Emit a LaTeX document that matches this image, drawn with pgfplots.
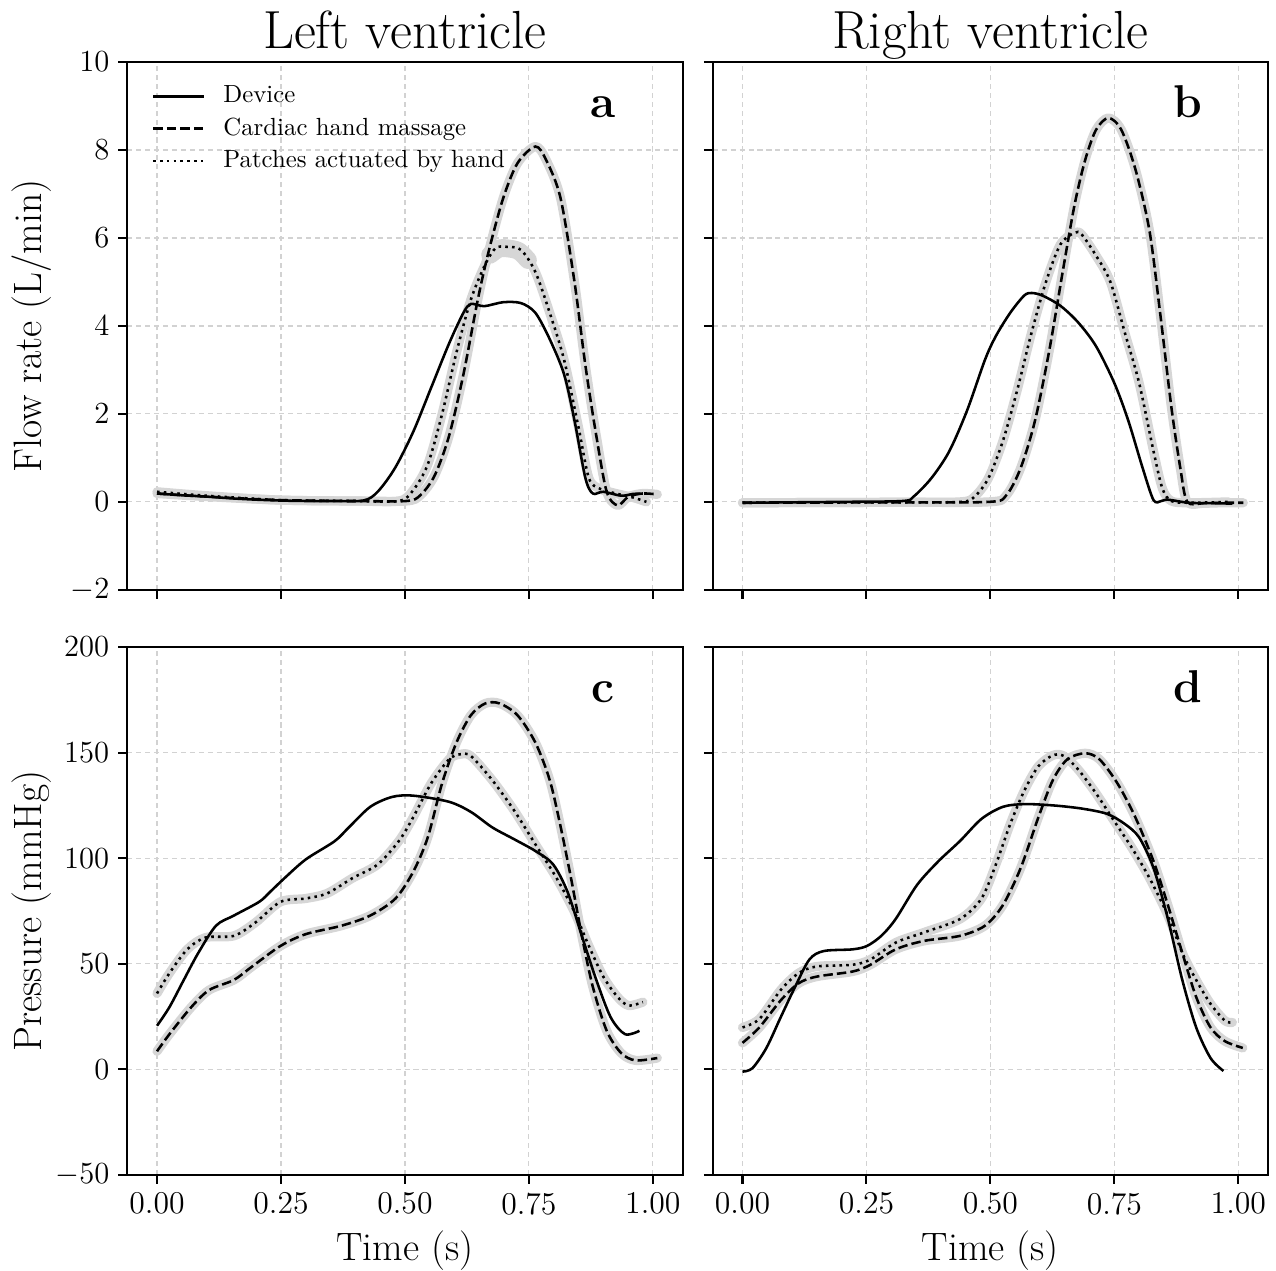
\documentclass[border=0pt]{standalone}
\usepackage{pgfplots}
\pgfplotsset{compat=1.18}
\usepgfplotslibrary{groupplots}

% ---- panel a: left ventricle flow
\pgfplotstableread{
x y
0 0.19
0.05 0.15
0.1 0.12
0.15 0.08
0.2 0.05
0.25 0.03
0.3 0.02
0.35 0.02
0.416 0.03
0.445 0.23
0.48 0.77
0.517 1.6
0.553 2.6
0.589 3.6
0.618 4.3
0.633 4.5
0.66 4.45
0.698 4.54
0.734 4.52
0.763 4.3
0.792 3.7
0.821 2.9
0.842 1.85
0.864 0.54
0.879 0.19
0.9 0.23
0.936 0.14
0.96 0.18
0.98 0.19
}\aDev
\pgfplotstableread{
x y
0 0.19
0.1 0.12
0.25 0.04
0.4 0.02
0.503 0.02
0.531 0.15
0.56 0.6
0.589 1.5
0.618 2.9
0.647 4.6
0.669 5.7
0.698 6.9
0.727 7.7
0.763 8.08
0.785 7.77
0.814 6.9
0.842 5.0
0.864 3.1
0.886 1.5
0.907 0.23
0.929 -0.08
0.951 0.12
0.98 0.19
1.009 0.17
}\aMas
\pgfplotstableread{
x y
0 0.23
0.1 0.14
0.25 0.04
0.4 0.02
0.488 0.02
0.517 0.27
0.546 0.85
0.575 2.0
0.604 3.4
0.633 4.6
0.662 5.4
0.683 5.77
0.705 5.8
0.734 5.73
0.763 5.23
0.792 4.3
0.821 3.23
0.85 1.7
0.871 0.54
0.893 0.3
0.922 0.2
0.96 0.1
0.987 0.0
}\aPat
% wider spread around the peak of the dotted curve in panel a
\pgfplotstableread{
x y
0.672 5.62
0.69 5.76
0.71 5.76
0.73 5.7
0.748 5.5
}\aPatPeak

% ---- panel b: right ventricle flow
\pgfplotstableread{
x y
0 -0.02
0.2 0.0
0.323 0.02
0.345 0.12
0.381 0.54
0.417 1.15
0.453 2.08
0.489 3.23
0.511 3.77
0.54 4.3
0.568 4.69
0.583 4.75
0.605 4.69
0.641 4.46
0.677 4.08
0.713 3.54
0.75 2.7
0.778 1.85
0.807 0.77
0.829 0.04
0.845 0.02
0.858 0.05
0.9 -0.02
0.95 -0.03
0.988 -0.04
}\bDev
\pgfplotstableread{
x y
0 -0.02
0.3 -0.01
0.497 0.0
0.532 0.15
0.561 0.77
0.59 1.85
0.619 3.46
0.648 5.38
0.67 6.77
0.691 7.77
0.713 8.46
0.738 8.73
0.764 8.46
0.793 7.54
0.821 6.15
0.843 4.23
0.865 2.15
0.883 0.77
0.897 0.0
0.93 -0.03
0.97 -0.02
1.01 -0.02
}\bMas
\pgfplotstableread{
x y
0 -0.02
0.3 -0.01
0.439 0.0
0.468 0.12
0.496 0.54
0.525 1.38
0.554 2.54
0.583 3.85
0.612 5.0
0.641 5.85
0.67 6.12
0.684 6.08
0.713 5.6
0.742 5.0
0.771 3.85
0.8 2.7
0.829 1.15
0.847 0.3
0.865 0.02
0.9 -0.02
0.98 0.0
}\bPat

% ---- panel c: left ventricle pressure
\pgfplotstableread{
x y
0 20.6
0.025 29.4
0.054 42.3
0.083 55
0.119 68
0.155 72.8
0.206 79.3
0.228 84
0.257 90.5
0.3 99.4
0.358 108
0.387 114.6
0.43 124.3
0.474 129
0.517 129.6
0.589 126.7
0.633 121.9
0.676 114.6
0.72 109
0.763 103.4
0.799 97
0.828 84
0.857 63
0.886 42.3
0.915 24.6
0.944 16.6
0.973 18.2
}\cDev
\pgfplotstableread{
x y
0 8.5
0.025 16.6
0.069 29.4
0.105 37.5
0.155 42.3
0.192 48.7
0.249 58.4
0.3 64
0.372 68
0.43 72.8
0.481 80.9
0.517 93.7
0.546 109.8
0.575 135.5
0.604 154.8
0.633 167.7
0.662 173.3
0.691 173.3
0.727 167.7
0.763 154.8
0.792 137
0.813 116
0.835 90.5
0.857 63
0.879 39
0.907 18.2
0.936 7.7
0.965 4.2
1.009 5.3
}\cMas
\pgfplotstableread{
x y
0 35.9
0.025 45.5
0.061 56.8
0.098 62.4
0.155 63.2
0.199 69.6
0.249 79.3
0.3 80.9
0.343 83.3
0.394 90.5
0.445 97
0.488 108.2
0.517 119.5
0.553 135.5
0.589 146.8
0.611 149.2
0.633 148.4
0.676 137
0.72 122.7
0.763 106.6
0.806 90.5
0.842 74.4
0.871 58.4
0.9 43.9
0.929 34.2
0.951 30.2
0.98 31.8
}\cPat

% ---- panel d: right ventricle pressure
\pgfplotstableread{
x y
0 -1.1
0.02 0.5
0.048 10
0.077 24.6
0.106 39
0.135 52
0.164 56
0.222 56.8
0.251 58.4
0.28 63.2
0.309 71.2
0.352 87.3
0.395 98.5
0.439 108.2
0.482 118.6
0.525 124.3
0.569 125.6
0.626 125
0.684 123.5
0.735 121
0.771 116.2
0.8 109.8
0.829 95.3
0.858 71.2
0.887 42.3
0.915 19.8
0.944 5.3
0.97 -0.8
}\dDev
\pgfplotstableread{
x y
0 12.5
0.034 19.8
0.077 32.6
0.113 40.7
0.15 43.9
0.222 46.3
0.258 49.5
0.309 56.8
0.366 60.8
0.439 63.2
0.489 68
0.525 77.7
0.561 95.3
0.597 119.5
0.626 137
0.655 146.8
0.691 149.7
0.72 146.8
0.756 135.5
0.792 119.5
0.829 98.5
0.858 77.7
0.887 55.1
0.915 34.2
0.944 19.8
0.973 13.3
1.009 10.1
}\dMas
\pgfplotstableread{
x y
0 19.8
0.034 23.8
0.077 37.5
0.113 45.5
0.15 48.7
0.222 49.5
0.258 52
0.309 60
0.366 64.8
0.439 71.2
0.482 80.9
0.511 97
0.54 116.2
0.569 132.3
0.597 143.6
0.626 148.7
0.648 148.4
0.677 142
0.713 130.7
0.749 117.8
0.785 105
0.821 90.5
0.858 72.8
0.887 55.1
0.915 42.3
0.944 31
0.973 23
0.988 22.2
}\dPat

\tikzset{
  dev/.style={black, line width=1pt, solid},
  mas/.style={black, line width=1pt, dash pattern=on 3.7pt off 1.6pt},
  pat/.style={black, line width=1pt, dash pattern=on 1pt off 1.65pt},
  band/.style={black!16, line width=3.6pt, line cap=round, line join=round},
}
\newcommand{\panel}[4]{%
  \addplot[band, smooth, tension=0.5, forget plot] table {#2};
  \addplot[band, smooth, tension=0.5, forget plot] table {#3};
  \addplot[dev, smooth, tension=0.5] table {#1};
  \addplot[mas, smooth, tension=0.5] table {#2};
  \addplot[pat, smooth, tension=0.5] table {#3};
  \node[anchor=base, font=\fontsize{18}{20}\selectfont\bfseries] at (rel axis cs:0.856,0.895) {#4};
}

\begin{document}
\begin{tikzpicture}
\begin{groupplot}[
  group style={group size=2 by 2, horizontal sep=11.8pt, vertical sep=22.4pt,
    x descriptions at=edge bottom, y descriptions at=edge left},
  width=217.3pt, height=206.5pt, scale only axis,
  xmin=-0.06, xmax=1.06,
  xtick={0,0.25,0.5,0.75,1},
  xticklabels={0.00,0.25,0.50,0.75,1.00},
  tick align=outside, xtick pos=bottom, ytick pos=left,
  major tick length=3.5pt,
  every tick/.style={black, line width=0.8pt},
  axis line style={line width=0.8pt},
  grid=major,
  grid style={gray!35, line width=0.45pt, dash pattern=on 2pt off 1.5pt},
  ticklabel style={font=\fontsize{12.4}{14}\selectfont},
  label style={font=\fontsize{15.5}{18}\selectfont},
  xlabel style={at={(axis description cs:0.5,-0.144)}, anchor=center},
  ylabel style={at={(axis description cs:-0.172,0.5)}, anchor=center, rotate=0},
  title style={font=\fontsize{21}{24}\selectfont, at={(axis description cs:0.5,1)}, anchor=base, yshift=-0.7pt},
  legend image code/.code={\draw[#1] (0cm,0cm) -- (0.7cm,0cm); \path[draw=none] (0.7cm,0cm) -- (0.7cm+6.5pt,0cm);},
]
\nextgroupplot[ymin=-2, ymax=10, ytick={-2,0,2,4,6,8,10},
  ylabel={Flow rate (L/min)}, title={Left ventricle},
  legend style={at={(axis description cs:0.03,0.972)}, anchor=north west,
    draw=none, fill=none, font=\fontsize{9.7}{11}\selectfont,
    nodes={inner sep=1pt, text height=7pt, text depth=2pt},
    row sep=1.6pt, legend cell align=left},
]
\addplot[band, line width=7pt, smooth, forget plot] table {\aPatPeak};
\panel{\aDev}{\aMas}{\aPat}{a}
\legend{Device, Cardiac hand massage, Patches actuated by hand}

\nextgroupplot[ymin=-2, ymax=10, ytick={-2,0,2,4,6,8,10}, title={Right ventricle}]
\panel{\bDev}{\bMas}{\bPat}{b}

\nextgroupplot[ymin=-50, ymax=200, ytick={-50,0,50,100,150,200},
  ylabel={Pressure (mmHg)}, xlabel={Time (s)}]
\panel{\cDev}{\cMas}{\cPat}{c}

\nextgroupplot[ymin=-50, ymax=200, ytick={-50,0,50,100,150,200}, xlabel={Time (s)}]
\panel{\dDev}{\dMas}{\dPat}{d}
\end{groupplot}
\pgfresetboundingbox
\path ([shift={(-49.8pt,24.3pt)}]group c1r1.north west) rectangle ([shift={(3.1pt,-37.6pt)}]group c2r2.south east);
\end{tikzpicture}
\end{document}
